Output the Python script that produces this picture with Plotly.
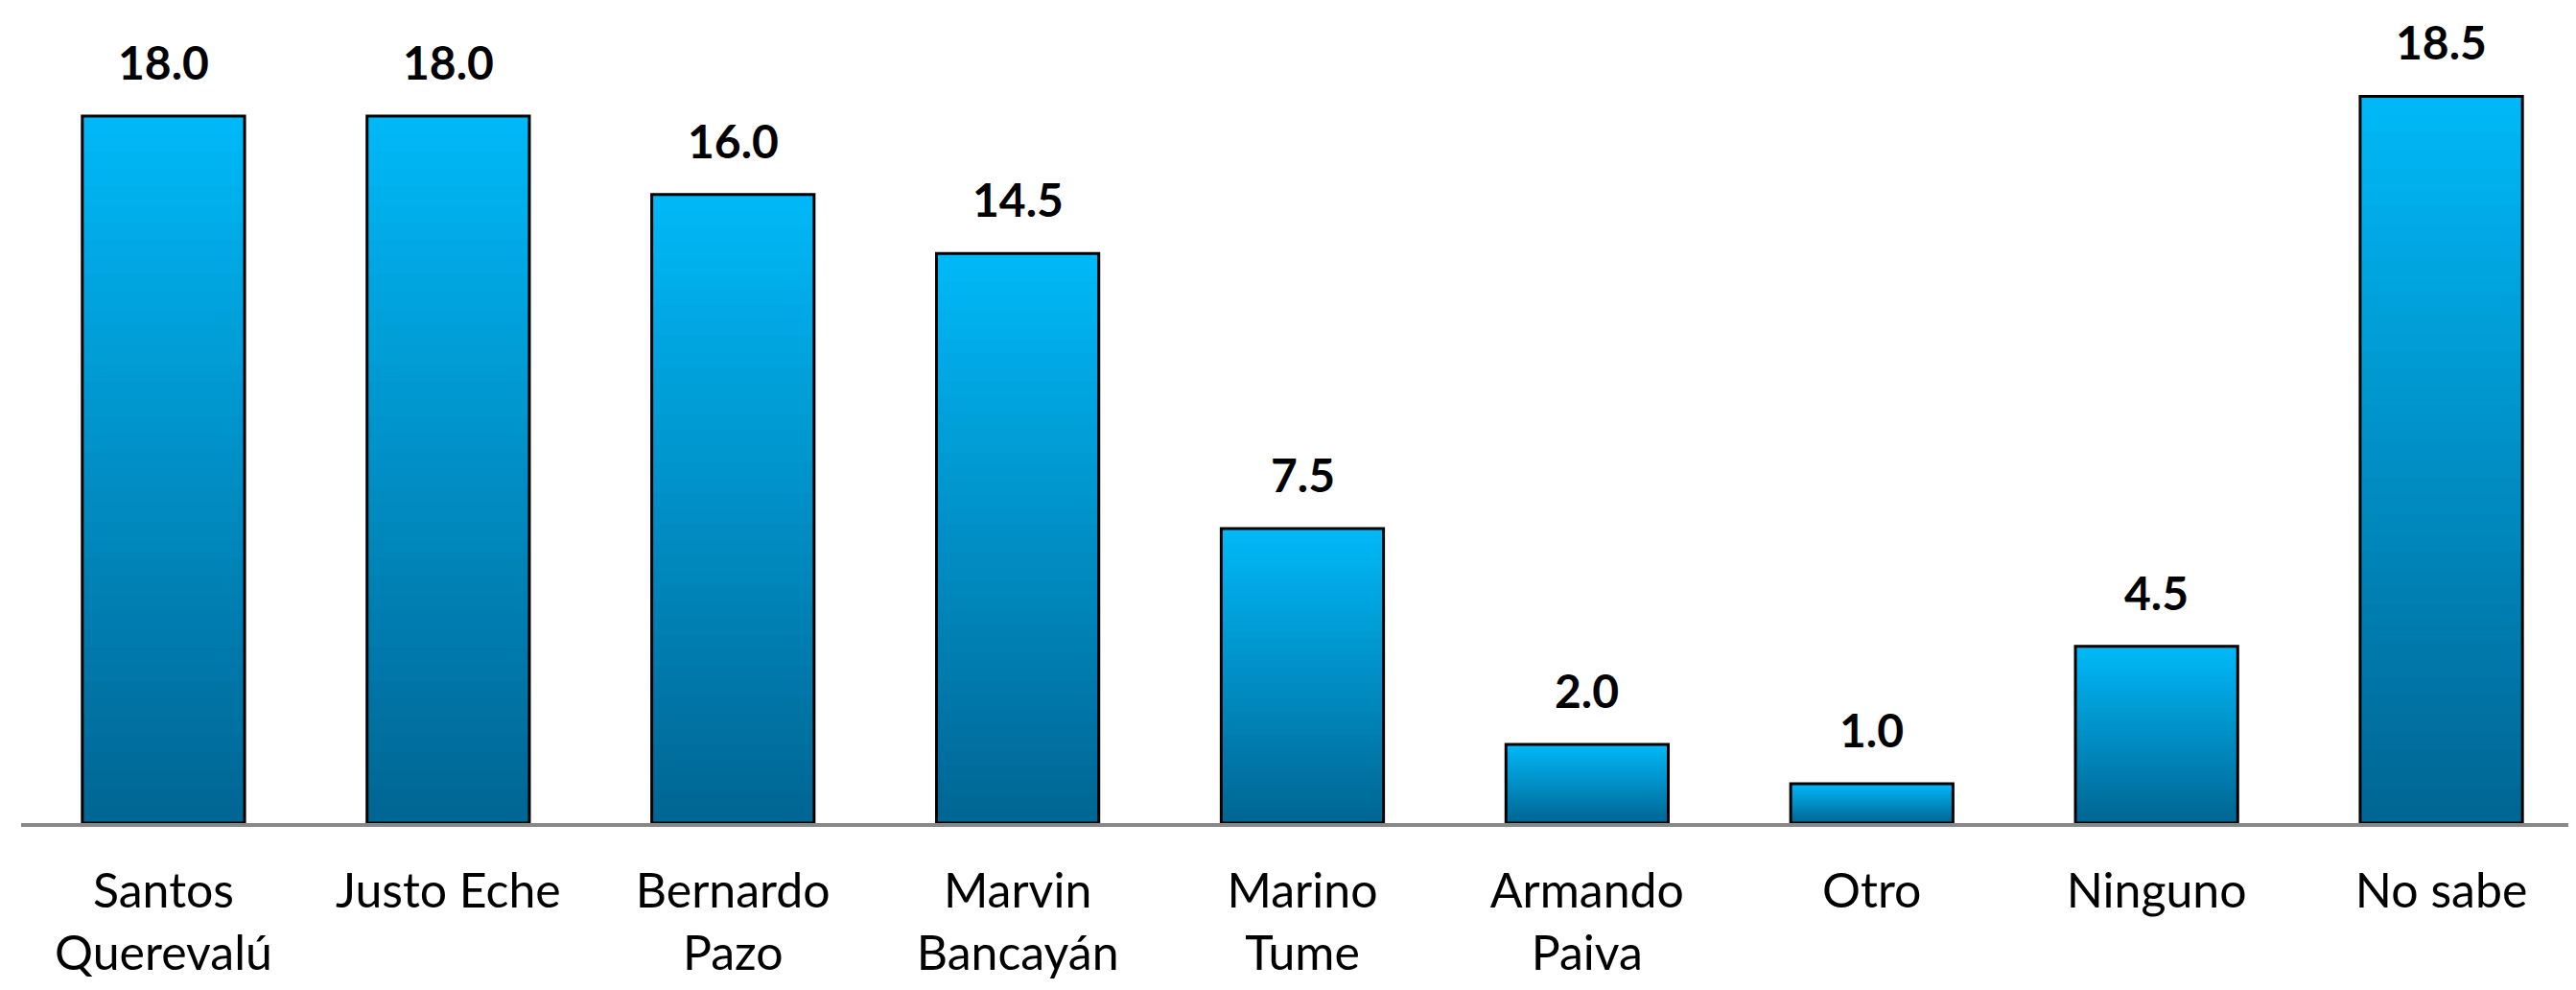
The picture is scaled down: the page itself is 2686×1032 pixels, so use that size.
import plotly.graph_objects as go

categories = ["Santos<br>Querevalú", "Justo Eche", "Bernardo<br>Pazo", "Marvin<br>Bancayán",
              "Marino<br>Tume", "Armando<br>Paiva", "Otro", "Ninguno", "No sabe"]
values = [18.0, 18.0, 16.0, 14.5, 7.5, 2.0, 1.0, 4.5, 18.5]

TOP = (0, 184, 247)     # bright cyan at bar tops
BOTTOM = (0, 100, 145)  # dark teal-blue at the baseline
N_STEPS = 40
FONT = "Lato"


def _mix(t):
    # t = 1 -> top colour, t = 0 -> bottom colour
    r, g, b = (round(BOTTOM[k] + (TOP[k] - BOTTOM[k]) * t) for k in range(3))
    return f"rgb({r},{g},{b})"


fig = go.Figure()

# gradient fill: overlaid bars of shrinking height, darker as they get shorter
for k in range(N_STEPS):
    frac = 1 - k / N_STEPS
    fig.add_trace(go.Bar(
        x=categories,
        y=[v * frac for v in values],
        marker=dict(color=_mix(frac), line=dict(width=0)),
        hoverinfo="skip",
        showlegend=False,
    ))

# black outline on top
fig.add_trace(go.Bar(
    x=categories,
    y=values,
    marker=dict(color="rgba(0,0,0,0)", line=dict(color="black", width=3)),
    hoverinfo="skip",
    showlegend=False,
))

for c, v in zip(categories, values):
    fig.add_annotation(
        x=c, y=v, text=f"<b>{v:.1f}</b>", showarrow=False,
        yanchor="bottom", yshift=26,
        font=dict(family=FONT, size=48, color="black"),
    )

fig.update_layout(
    width=2686,
    height=1032,
    barmode="overlay",
    bargap=0.43,
    plot_bgcolor="white",
    paper_bgcolor="white",
    margin=dict(l=14, r=0, t=31, b=182),
    font=dict(family=FONT, size=50, color="black"),
    xaxis=dict(
        showline=True, linecolor="#888888", linewidth=4,
        showgrid=False, ticks="", ticklabelstandoff=24,
        tickfont=dict(family=FONT, size=50, color="black"),
    ),
    yaxis=dict(range=[0, 20], visible=False, showgrid=False, zeroline=False),
)

fig.write_html("out.html")
